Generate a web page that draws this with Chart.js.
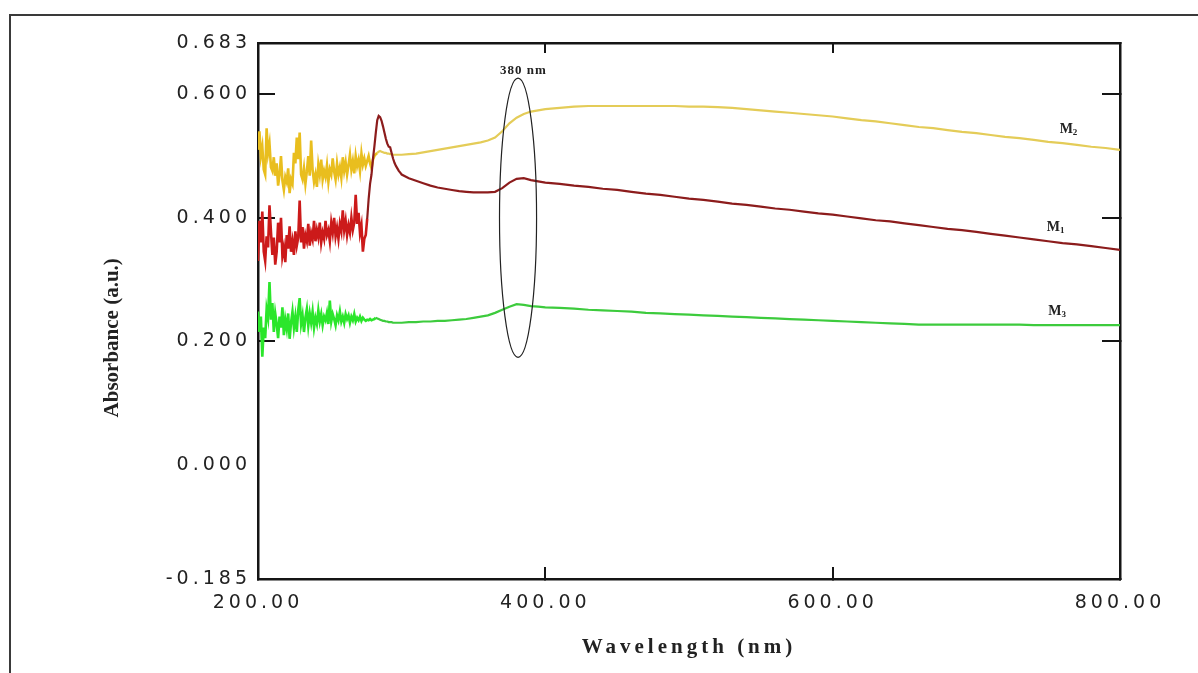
<!DOCTYPE html>
<html>
<head>
<meta charset="utf-8">
<title>UV-Vis absorbance spectra M1, M2, M3</title>
<script src="https://cdn.jsdelivr.net/npm/chart.js@4.4.1/dist/chart.umd.min.js"></script>
<style>
  html, body { margin: 0; padding: 0; background: #fff; overflow: hidden; }
  #frame { position: absolute; left: 9px; top: 14px; width: 1200px; height: 700px; border: 2px solid #3a3a3a; box-sizing: border-box; }
  #spectra { position: absolute; left: 0; top: 0; }
</style>
</head>
<body>
<div id="frame"></div>
<canvas id="spectra" width="1198" height="673"></canvas>
<script>
// --- Data ---
// wavelengths in nm: 1 nm steps through the noisy UV part, then coarser
const wavelengths = [
  200, 201, 202, 203, 204, 205, 206, 207, 208, 209,
  210, 211, 212, 213, 214, 215, 216, 217, 218, 219,
  220, 221, 222, 223, 224, 225, 226, 227, 228, 229,
  230, 231, 232, 233, 234, 235, 236, 237, 238, 239,
  240, 241, 242, 243, 244, 245, 246, 247, 248, 249,
  250, 251, 252, 253, 254, 255, 256, 257, 258, 259,
  260, 261, 262, 263, 264, 265, 266, 267, 268, 269,
  270, 271, 272, 273, 274, 275, 276, 277, 278, 279,
  280, 281, 282, 283, 284, 285, 286, 287, 288, 289,
  290, 291, 292, 293, 294, 295, 296, 297, 298, 299, 300,
  305, 310, 315, 320, 325, 330, 335, 340, 345, 350,
  355, 360, 365, 370, 375, 380, 385, 390, 395, 400,
  410, 420, 430, 440, 450, 460, 470, 480, 490, 500,
  510, 520, 530, 540, 550, 560, 570, 580, 590, 600,
  610, 620, 630, 640, 650, 660, 670, 680, 690, 700,
  710, 720, 730, 740, 750, 760, 770, 780, 790, 800
];

// absorbance (a.u.) of sample M1 (dark red)
const m1Absorbance = [
  0.330, 0.395, 0.360, 0.410, 0.345, 0.330, 0.370, 0.352, 0.420, 0.378,
  0.340, 0.368, 0.324, 0.345, 0.392, 0.360, 0.400, 0.338, 0.352, 0.328,
  0.372, 0.350, 0.386, 0.345, 0.362, 0.340, 0.378, 0.355, 0.368, 0.428,
  0.360, 0.385, 0.350, 0.372, 0.362, 0.390, 0.355, 0.375, 0.365, 0.395,
  0.362, 0.380, 0.368, 0.392, 0.360, 0.376, 0.366, 0.395, 0.372, 0.380,
  0.362, 0.392, 0.376, 0.400, 0.370, 0.384, 0.366, 0.390, 0.378, 0.412,
  0.380, 0.395, 0.372, 0.388, 0.376, 0.400, 0.380, 0.392, 0.437, 0.390,
  0.408, 0.375, 0.388, 0.345, 0.366, 0.372, 0.398, 0.430, 0.455, 0.470,
  0.495, 0.515, 0.538, 0.558, 0.565, 0.563, 0.557, 0.548, 0.538, 0.528,
  0.520, 0.515, 0.514, 0.505, 0.496, 0.489, 0.484, 0.480, 0.476, 0.473, 0.470,
  0.464, 0.460, 0.456, 0.452, 0.449, 0.447, 0.445, 0.443, 0.442, 0.441,
  0.441, 0.441, 0.442, 0.448, 0.457, 0.463, 0.464, 0.461, 0.459, 0.457,
  0.455, 0.452, 0.450, 0.447, 0.445, 0.442, 0.439, 0.437, 0.434, 0.431,
  0.429, 0.426, 0.423, 0.421, 0.418, 0.415, 0.413, 0.410, 0.407, 0.405,
  0.402, 0.399, 0.396, 0.394, 0.391, 0.388, 0.385, 0.382, 0.380, 0.377,
  0.374, 0.371, 0.368, 0.365, 0.362, 0.359, 0.357, 0.354, 0.351, 0.348
];

// absorbance (a.u.) of sample M2 (yellow)
const m2Absorbance = [
  0.510, 0.540, 0.500, 0.515, 0.478, 0.470, 0.545, 0.505, 0.520, 0.482,
  0.476, 0.498, 0.468, 0.488, 0.452, 0.470, 0.500, 0.460, 0.445, 0.466,
  0.458, 0.480, 0.440, 0.462, 0.455, 0.505, 0.488, 0.530, 0.495, 0.538,
  0.470, 0.462, 0.480, 0.455, 0.475, 0.500, 0.468, 0.525, 0.478, 0.458,
  0.470, 0.450, 0.486, 0.470, 0.494, 0.462, 0.476, 0.466, 0.485, 0.458,
  0.478, 0.470, 0.496, 0.475, 0.462, 0.488, 0.470, 0.482, 0.465, 0.498,
  0.476, 0.490, 0.470, 0.485, 0.502, 0.478, 0.492, 0.472, 0.500, 0.484,
  0.494, 0.476, 0.504, 0.486, 0.496, 0.484, 0.492, 0.500, 0.488, 0.480,
  0.494, 0.500, 0.503, 0.505, 0.507, 0.508, 0.507, 0.506, 0.505, 0.505,
  0.504, 0.504, 0.503, 0.503, 0.502, 0.502, 0.502, 0.502, 0.502, 0.502, 0.502,
  0.503, 0.504, 0.506, 0.508, 0.510, 0.512, 0.514, 0.516, 0.518, 0.520,
  0.522, 0.525, 0.530, 0.540, 0.553, 0.562, 0.568, 0.572, 0.574, 0.576,
  0.578, 0.580, 0.581, 0.581, 0.581, 0.581, 0.581, 0.581, 0.581, 0.580,
  0.580, 0.579, 0.578, 0.576, 0.574, 0.572, 0.570, 0.568, 0.566, 0.564,
  0.561, 0.558, 0.556, 0.553, 0.550, 0.547, 0.545, 0.542, 0.539, 0.537,
  0.534, 0.531, 0.529, 0.526, 0.523, 0.521, 0.518, 0.515, 0.513, 0.510
];

// absorbance (a.u.) of sample M3 (green)
const m3Absorbance = [
  0.248, 0.215, 0.240, 0.175, 0.222, 0.205, 0.252, 0.238, 0.296, 0.235,
  0.262, 0.215, 0.245, 0.228, 0.205, 0.240, 0.222, 0.255, 0.210, 0.235,
  0.220, 0.245, 0.204, 0.230, 0.248, 0.222, 0.240, 0.215, 0.250, 0.270,
  0.228, 0.242, 0.215, 0.238, 0.252, 0.225, 0.245, 0.230, 0.248, 0.222,
  0.238, 0.228, 0.250, 0.232, 0.244, 0.226, 0.240, 0.234, 0.246, 0.228,
  0.266, 0.232, 0.244, 0.236, 0.226, 0.242, 0.234, 0.248, 0.232, 0.240,
  0.230, 0.244, 0.236, 0.242, 0.230, 0.240, 0.234, 0.244, 0.232, 0.238,
  0.234, 0.240, 0.233, 0.238, 0.235, 0.233, 0.235, 0.234, 0.236, 0.234,
  0.235, 0.236, 0.238, 0.237, 0.236, 0.235, 0.234, 0.233, 0.233, 0.232,
  0.232, 0.231, 0.231, 0.231, 0.230, 0.230, 0.230, 0.230, 0.230, 0.230, 0.230,
  0.231, 0.231, 0.232, 0.232, 0.233, 0.233, 0.234, 0.235, 0.236, 0.238,
  0.240, 0.242, 0.246, 0.251, 0.256, 0.260, 0.259, 0.257, 0.256, 0.255,
  0.254, 0.253, 0.251, 0.250, 0.249, 0.248, 0.246, 0.245, 0.244, 0.243,
  0.242, 0.241, 0.240, 0.239, 0.238, 0.237, 0.236, 0.235, 0.234, 0.233,
  0.232, 0.231, 0.230, 0.229, 0.228, 0.227, 0.227, 0.227, 0.227, 0.227,
  0.227, 0.227, 0.227, 0.226, 0.226, 0.226, 0.226, 0.226, 0.226, 0.226
];

// axis ticks as printed on the figure
const xTicks = [200, 400, 600, 800];
const yTicks = [-0.185, 0.000, 0.200, 0.400, 0.600, 0.683];
const xRange = [200, 800];
const yRange = [-0.185, 0.683];

// --- Annotations (data coordinates) ---
const markerText = '380 nm';
const markerTextAt = { x: 368.5, y: 0.633 };
const ellipseCenter = { x: 381, y: 0.400 };
const ellipseHalf = { x: 12.9, y: 0.226 };
const curveLabels = [
  { sub: '2', x: 758, y: 0.537 },
  { sub: '1', x: 749, y: 0.379 },
  { sub: '3', x: 750, y: 0.243 }
];

const axisColor = '#151515';
const textColor = '#222';

// --- Dataset helper ---
// the noisy UV part of each trace is a brighter shade in the scan
function spectrum(label, values, noisyColor, lineColor, noiseEnd) {
  return {
    label: label,
    data: wavelengths.map((w, i) => ({ x: w, y: values[i] })),
    borderColor: lineColor,
    borderWidth: 2.2,
    pointRadius: 0,
    tension: 0,
    segment: {
      borderColor: ctx => (ctx.p1.parsed.x <= noiseEnd ? noisyColor : lineColor),
      borderWidth: ctx => (ctx.p1.parsed.x <= noiseEnd ? 2.6 : 2.2)
    }
  };
}

// --- Plugin: letter spacing, y title, ellipse and curve labels ---
const figureText = {
  id: 'figureText',
  beforeDraw(chart) {
    chart.ctx.letterSpacing = '4px'; // scanned tick labels are widely spaced
  },
  afterDraw(chart) {
    const ctx = chart.ctx;
    const xs = chart.scales.x;
    const ys = chart.scales.y;
    const area = chart.chartArea;

    ctx.save();
    ctx.letterSpacing = '0px';

    // y axis title
    ctx.save();
    ctx.translate(area.left - 145, area.top + area.height * 0.55);
    ctx.rotate(-Math.PI / 2);
    ctx.font = 'bold 21px "Liberation Serif"';
    ctx.fillStyle = textColor;
    ctx.textAlign = 'center';
    ctx.textBaseline = 'middle';
    ctx.fillText('Absorbance (a.u.)', 0, 0);
    ctx.restore();

    // ellipse round the 380 nm shoulder
    const cx = xs.getPixelForValue(ellipseCenter.x);
    const cy = ys.getPixelForValue(ellipseCenter.y);
    const rx = xs.getPixelForValue(ellipseCenter.x + ellipseHalf.x) - cx;
    const ry = cy - ys.getPixelForValue(ellipseCenter.y + ellipseHalf.y);
    ctx.beginPath();
    ctx.ellipse(cx, cy, rx, ry, 0, 0, Math.PI * 2);
    ctx.strokeStyle = '#222';
    ctx.lineWidth = 1.2;
    ctx.stroke();

    // "380 nm"
    ctx.letterSpacing = '1px';
    ctx.fillStyle = textColor;
    ctx.font = 'bold 13px "Liberation Serif"';
    ctx.textAlign = 'left';
    ctx.textBaseline = 'alphabetic';
    ctx.fillText(markerText, xs.getPixelForValue(markerTextAt.x), ys.getPixelForValue(markerTextAt.y));

    // M1 / M2 / M3 with subscripts
    ctx.letterSpacing = '0px';
    curveLabels.forEach(lab => {
      const px = xs.getPixelForValue(lab.x);
      const py = ys.getPixelForValue(lab.y);
      ctx.font = 'bold 14px "Liberation Serif"';
      ctx.fillText('M', px, py);
      const w = ctx.measureText('M').width;
      ctx.font = 'bold 9px "Liberation Serif"';
      ctx.fillText(lab.sub, px + w, py + 2);
    });

    ctx.restore();
  }
};

// --- Chart ---
const tickFont = { family: 'DejaVu Sans', size: 19 };
const hideZeroTick = ctx => (ctx.tick && ctx.tick.value === 0 ? 'rgba(0,0,0,0)' : axisColor);

new Chart(document.getElementById('spectra'), {
  type: 'line',
  data: {
    datasets: [
      spectrum('M1', m1Absorbance, '#CC1A1A', '#8C1C1C', 276),
      spectrum('M2', m2Absorbance, '#E9BE1E', '#E4CC58', 283),
      spectrum('M3', m3Absorbance, '#2BE62B', '#3DCB3D', 282)
    ]
  },
  options: {
    responsive: false,
    devicePixelRatio: 1,
    animation: false,
    layout: { padding: 0 },
    plugins: {
      legend: { display: false },
      tooltip: { enabled: false }
    },
    scales: {
      x: {
        type: 'linear',
        position: 'bottom',
        min: xRange[0],
        max: xRange[1],
        afterBuildTicks: s => { s.ticks = xTicks.map(v => ({ value: v })); },
        afterFit: s => { s.height = 94; },
        ticks: {
          callback: v => v.toFixed(2),
          font: tickFont,
          color: textColor,
          padding: 25,
          maxRotation: 0,
          autoSkip: false
        },
        grid: { drawOnChartArea: false, tickLength: -12, color: axisColor, lineWidth: 2 },
        border: { color: axisColor, width: 2.5 },
        title: {
          display: true,
          text: 'Wavelength (nm)',
          font: { family: 'Liberation Serif', size: 21, weight: 'bold' },
          color: textColor,
          padding: { top: 0, bottom: 13 }
        }
      },
      xTop: {
        type: 'linear',
        position: 'top',
        min: xRange[0],
        max: xRange[1],
        afterBuildTicks: s => { s.ticks = xTicks.map(v => ({ value: v })); },
        afterFit: s => { s.height = 43; },
        ticks: { display: false },
        grid: { drawOnChartArea: false, tickLength: -10, color: axisColor, lineWidth: 2 },
        border: { color: axisColor, width: 2.5 }
      },
      y: {
        type: 'linear',
        position: 'left',
        min: yRange[0],
        max: yRange[1],
        afterBuildTicks: s => { s.ticks = yTicks.map(v => ({ value: v })); },
        afterFit: s => { s.width = 258; },
        ticks: {
          callback: v => v.toFixed(3),
          font: tickFont,
          color: textColor,
          padding: 24,
          autoSkip: false
        },
        grid: { drawOnChartArea: false, tickLength: -17, color: hideZeroTick, lineWidth: 2 },
        border: { color: axisColor, width: 2.5 }
      },
      yRight: {
        type: 'linear',
        position: 'right',
        min: yRange[0],
        max: yRange[1],
        afterBuildTicks: s => { s.ticks = yTicks.map(v => ({ value: v })); },
        afterFit: s => { s.width = 78; },
        ticks: { display: false },
        grid: { drawOnChartArea: false, tickLength: -18, color: hideZeroTick, lineWidth: 2 },
        border: { color: axisColor, width: 2.5 }
      }
    }
  },
  plugins: [figureText]
});
</script>
</body>
</html>
